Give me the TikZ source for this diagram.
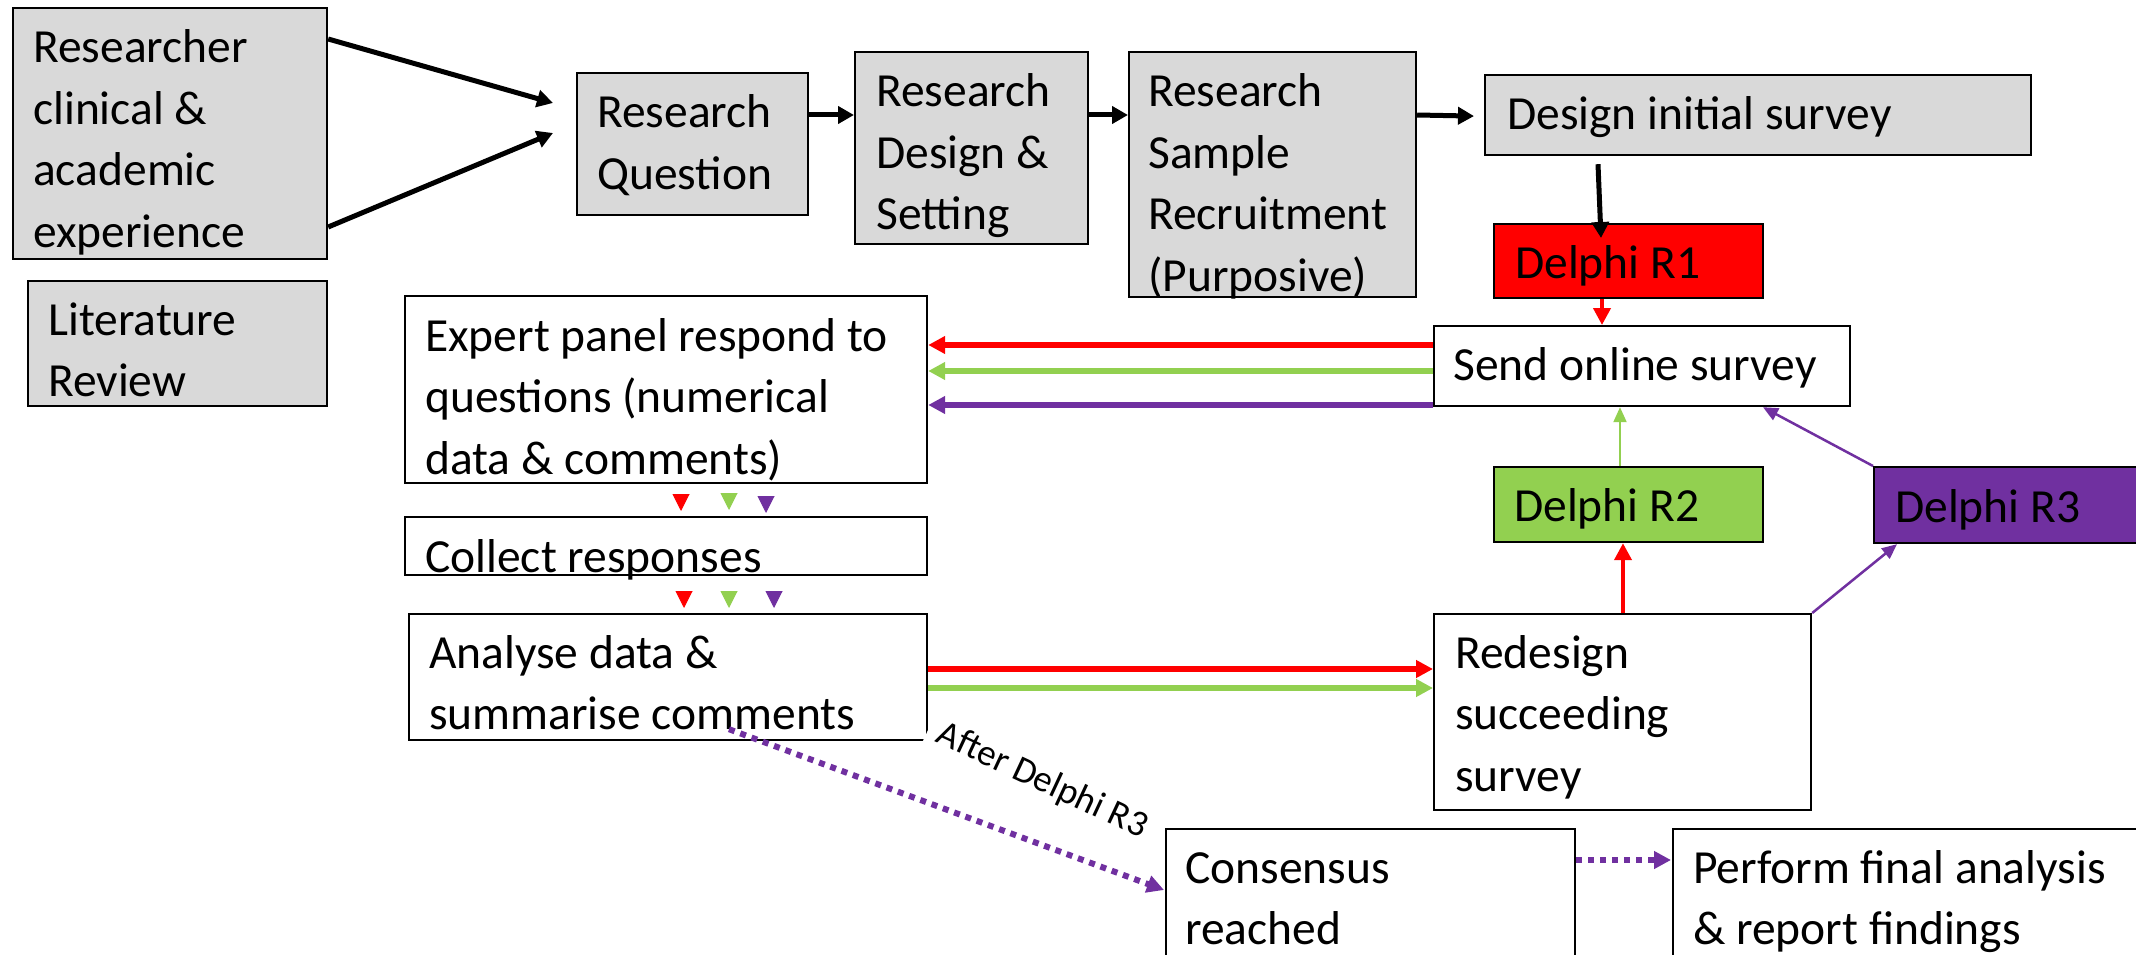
\documentclass[tikz,border=0pt]{standalone}
\usepackage{fontspec}
\setmainfont{Carlito}
\usetikzlibrary{arrows.meta,calc}
\definecolor{boxgray}{HTML}{D9D9D9}
\definecolor{dred}{HTML}{FF0000}
\definecolor{dgreen}{HTML}{92D050}
\definecolor{dpurple}{HTML}{7030A0}
\newcommand{\ml}[1]{\begin{tabular}[t]{@{}l@{}}#1\end{tabular}}
\begin{document}
\begin{tikzpicture}[x=1pt,y=-1pt,
  box/.style={draw=black, line width=2.2pt, inner sep=0pt, anchor=north west, fill=white},
  graybox/.style={box, fill=boxgray},
  txt/.style={anchor=base west, inner sep=0pt, font=\fontsize{47.5}{61.5}\selectfont},
  barrow/.style={line width=5pt, -{Triangle[length=16pt,width=17pt]}},
  carrow/.style={line width=6pt, -{Triangle[length=17pt,width=17pt]}},
  marrow/.style={line width=4pt, -{Triangle[length=17pt,width=17pt]}},
  tarrow/.style={line width=2.5pt, -{Triangle[length=15pt,width=13pt]}},
  tiny/.style={line width=1pt, -{Triangle[length=17pt,width=17pt]}},
  dotarrow/.style={line width=6pt, dash pattern=on 6pt off 6pt, dpurple, -{Triangle[length=17pt,width=17pt]}},
]
\useasboundingbox (0,0) rectangle (2136,955);
\clip (0,0) rectangle (2136,955);
\fill[white] (0,0) rectangle (2136,955);

% boxes
\node[graybox, minimum width=314pt, minimum height=251pt] (res) at (12,7) {};
\node[graybox, minimum width=299pt, minimum height=125pt] (lit) at (27,280) {};
\node[graybox, minimum width=231pt, minimum height=142pt] (rq) at (576,72) {};
\node[graybox, minimum width=233pt, minimum height=192pt] (rds) at (854,51) {};
\node[graybox, minimum width=287pt, minimum height=245pt] (rsr) at (1128,51) {};
\node[graybox, minimum width=546pt, minimum height=80pt] (dis) at (1484,74) {};
\node[box, fill=dred, minimum width=269pt, minimum height=74pt] (r1) at (1493,223) {};
\node[box, minimum width=416pt, minimum height=80pt] (send) at (1433,325) {};
\node[box, minimum width=522pt, minimum height=187pt] (expert) at (404,295) {};
\node[box, minimum width=522pt, minimum height=58pt] (collect) at (404,516) {};
\node[box, minimum width=518pt, minimum height=126pt] (analyse) at (408,613) {};
\node[box, fill=dgreen, minimum width=269pt, minimum height=75pt] (r2) at (1493,466) {};
\node[box, fill=dpurple, minimum width=277pt, minimum height=76pt] (r3) at (1873,466) {};
\node[box, minimum width=377pt, minimum height=196pt] (redesign) at (1433,613) {};
\node[box, minimum width=409pt, minimum height=147pt] (consensus) at (1165,828) {};
\node[box, minimum width=478pt, minimum height=147pt] (perform) at (1672,828) {};

% texts
\node[txt] (res-t) at (33,63) {\ml{Researcher\\clinical \&\\academic\\experience}};
\node[txt] (lit-t) at (48,335) {\ml{Literature\\Review}};
\node[txt] (rq-t) at (597,128) {\ml{Research\\Question}};
\node[txt] (rds-t) at (876,107) {\ml{Research\\Design \&\\Setting}};
\node[txt] (rsr-t) at (1148,107) {\ml{Research\\Sample\\Recruitment\\(Purposive)}};
\node[txt] (dis-t) at (1507,130) {Design initial survey};
\node[txt] (r1-t) at (1515,278) {Delphi R1};
\node[txt] (send-t) at (1453,380) {Send online survey};
\node[txt] (exp-t) at (425,351) {\ml{Expert panel respond to\\questions (numerical\\data \& comments)}};
\node[txt] (col-t) at (425,572) {Collect responses};
\node[txt] (ana-t) at (429,668) {\ml{Analyse data \&\\summarise comments}};
\node[txt] (r2-t) at (1514,521) {Delphi R2};
\node[txt] (r3-t) at (1895,522) {Delphi R3};
\node[txt] (red-t) at (1455,668) {\ml{Redesign\\succeeding\\survey}};
\node[txt] (con-t) at (1185,883) {\ml{Consensus\\reached}};
\node[txt] (per-t) at (1693,883) {\ml{Perform final analysis\\\& report findings}};

% label with white background
\node[fill=white, inner sep=11pt, rotate=-25, font=\fontsize{37}{40}\selectfont] (after) at (1042,781) {After Delphi R3};

% top row arrows
\coordinate (rqin1) at (553,103);
\coordinate (rqin2) at (553,133);
\draw[barrow] ($(res.north east)+(0,32)$) -- (rqin1);
\draw[barrow] ($(res.north east)+(0,220)$) -- (rqin2);
\draw[barrow] ($(rq.north east)+(0,43)$) -- ($(rds.north west)+(0,64)$);
\draw[barrow] ($(rds.north east)+(0,64)$) -- ($(rsr.north west)+(0,64)$);
\draw[barrow] ($(rsr.north east)+(0,64)$) -- ($(dis.west)+(-10,1)$);
\draw[barrow] ($(dis.south west)+(114,8)$) -- ($(r1.north west)+(108,15)$);

% R1 -> send
\draw[marrow, dred] ($(r1.south west)+(109,0)$) -- ($(send.north west)+(169,0)$);

% send -> expert
\draw[carrow, dred] ($(send.north west)+(0,20)$) -- ($(expert.north east)+(0,50)$);
\draw[carrow, dgreen] ($(send.north west)+(0,46)$) -- ($(expert.north east)+(0,76)$);
\draw[carrow, dpurple] ($(send.north west)+(0,80)$) -- ($(expert.north east)+(0,110)$);

% expert -> collect small heads
\draw[tiny, dred] ($(expert.south west)+(277,11)$) -- ($(collect.north west)+(277,-5)$);
\draw[tiny, dgreen] ($(expert.south west)+(325,11)$) -- ($(collect.north west)+(325,-6)$);
\draw[tiny, dpurple] ($(expert.south west)+(362,13)$) -- ($(collect.north west)+(362,-3)$);

% collect -> analyse small heads
\draw[tiny, dred] ($(collect.south west)+(280,16)$) -- ($(analyse.north west)+(276,-5)$);
\draw[tiny, dgreen] ($(collect.south west)+(325,16)$) -- ($(analyse.north west)+(321,-5)$);
\draw[tiny, dpurple] ($(collect.south west)+(370,16)$) -- ($(analyse.north west)+(366,-5)$);

% analyse -> redesign
\draw[carrow, dred] ($(analyse.north east)+(0,56)$) -- ($(redesign.north west)+(0,56)$);
\draw[carrow, dgreen] ($(analyse.north east)+(0,75)$) -- ($(redesign.north west)+(0,75)$);

% redesign -> R2, R2 -> send
\draw[marrow, dred] ($(redesign.north west)+(190,0)$) -- ($(r2.south west)+(130,0)$);
\draw[tarrow, dgreen, line width=2pt] ($(r2.north west)+(127,0)$) -- ($(send.south west)+(187,0)$);

% redesign -> R3, R3 -> send
\draw[tarrow, dpurple] (redesign.north east) -- ($(r3.south west)+(24,0)$);
\draw[tarrow, dpurple] (r3.north west) -- ($(send.south west)+(330,0)$);

% dotted
\draw[dotarrow] ($(analyse.south west)+(321,-12)$) -- ($(consensus.north west)+(-1,62)$);
\draw[dotarrow] ($(consensus.north east)+(0,32)$) -- ($(perform.north west)+(-1,32)$);
\end{tikzpicture}
\end{document}
